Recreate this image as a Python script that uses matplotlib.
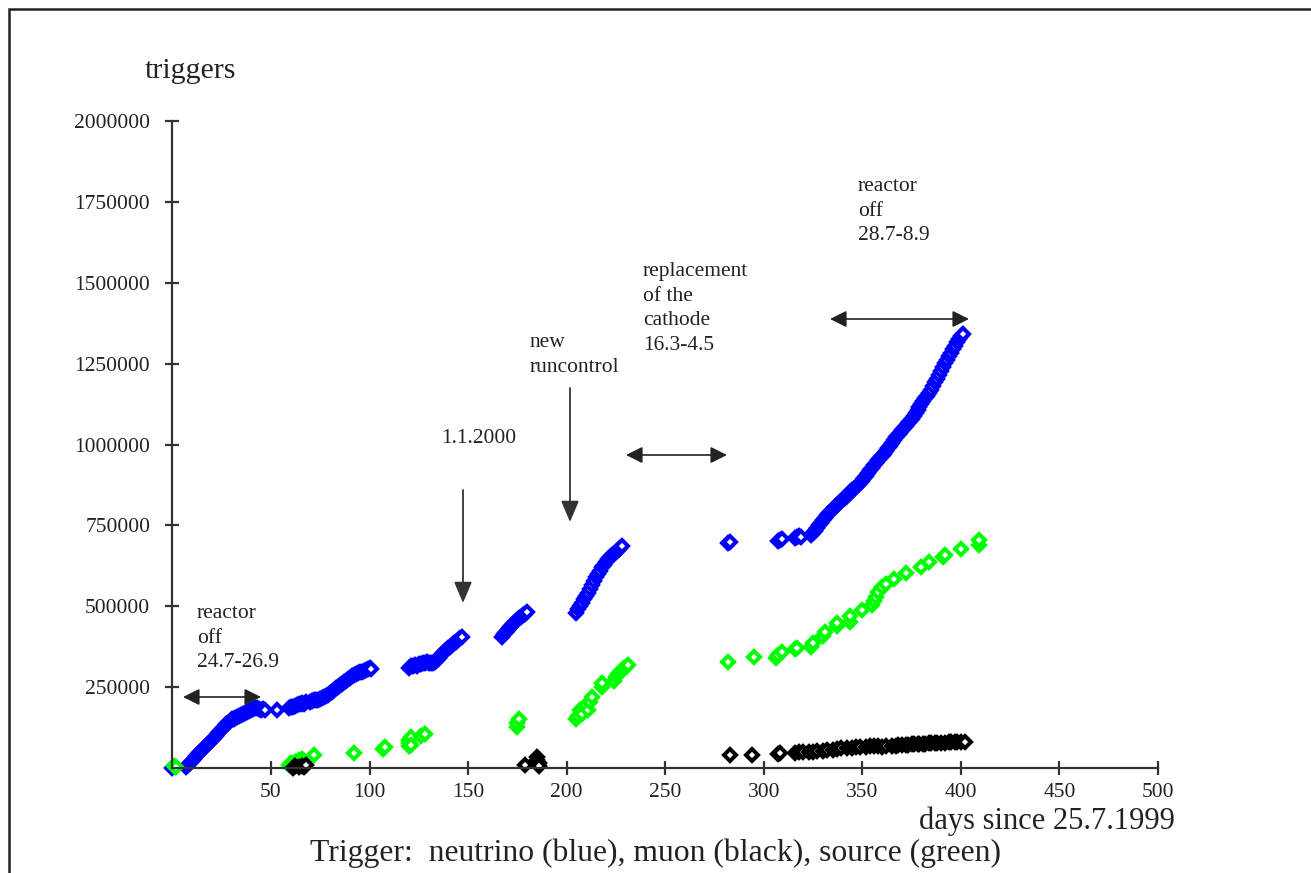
import matplotlib
matplotlib.use("Agg")
import matplotlib.pyplot as plt
from matplotlib.patches import Rectangle

plt.rcParams['font.family'] = ['Liberation Serif', 'DejaVu Serif']

# ---------------- data ----------------
neutrino_days = [0, 7, 8, 9, 10, 11, 12, 13, 14, 15, 16, 17, 18, 19, 20, 21, 22, 23, 24, 25, 26, 27, 28, 29, 30,
                 31, 32, 33, 34, 35, 36, 37, 38, 39, 40, 41, 42, 43, 44, 45, 46, 47,
                 53,
                 59, 60, 61, 62, 63, 64, 65, 66, 67, 68, 70, 71, 72, 73, 74, 75, 76, 77, 78, 79, 80, 81, 82, 83,
                 84, 85, 86, 87, 88, 89, 90, 91, 92, 93, 94, 95, 96, 97, 98, 99, 100, 101,
                 120, 121, 122, 123, 124, 125, 126, 127, 128, 129, 130, 131, 132, 133, 134, 135, 136, 137, 138,
                 139, 140, 141, 142, 143, 144, 145, 146, 147,
                 167, 168, 169, 170, 171, 172, 173, 174, 175, 176, 177, 178, 179, 180,
                 205, 206, 207, 208, 209, 210, 211, 212, 213, 214, 215, 216, 217, 218, 219, 220, 221, 222, 223,
                 224, 225, 226, 227, 228,
                 282, 283,
                 307, 308, 309, 316, 317, 318, 319, 324, 325, 326, 327, 328, 329, 330, 331, 332, 333, 334, 335,
                 336, 337, 338, 339, 340, 341, 342, 343, 344, 345, 346, 347, 348, 349, 350, 351, 352, 353, 354,
                 355, 356, 357, 358, 359, 360, 361, 362, 363, 364, 365, 366, 367, 368, 369, 370, 371, 372, 373,
                 374, 375, 376, 377, 378, 379, 380, 381, 382, 383, 384, 385, 386, 387, 388, 389, 390, 391, 392,
                 393, 394, 395, 396, 397, 398, 399, 400, 401]
neutrino_trig = [0, 3e3, 9e3, 15e3, 22e3, 28e3, 36e3, 43e3, 50e3, 56e3, 62e3, 68e3, 74e3, 80e3, 87e3, 93e3,
                 100e3, 107e3, 114e3, 121e3, 128e3, 135e3, 140e3, 145e3, 150e3,
                 153e3, 155e3, 158e3, 160e3, 163e3, 166e3, 170e3, 173e3, 177e3, 180e3, 183e3, 184e3, 185e3,
                 182e3, 180e3, 181e3, 179e3,
                 178e3,
                 187e3, 190e3, 188e3, 192e3, 195e3, 197e3, 199e3, 201e3, 198e3, 203e3, 205e3, 207e3, 210e3,
                 211e3, 209e3, 212e3, 215e3, 218e3, 222e3, 226e3, 231e3, 236e3, 241e3, 246e3,
                 251e3, 256e3, 261e3, 265e3, 270e3, 275e3, 279e3, 283e3, 286e3, 290e3, 293e3, 296e3, 298e3,
                 301e3, 304e3, 306e3, 308e3, 307e3,
                 309e3, 314e3, 316e3, 318e3, 315e3, 320e3, 322e3, 324e3, 325e3, 327e3, 324e3, 326e3, 325e3,
                 329e3, 333e3, 340e3, 346e3, 352e3, 358e3,
                 364e3, 370e3, 375e3, 381e3, 386e3, 391e3, 396e3, 401e3, 405e3,
                 405e3, 413e3, 420e3, 427e3, 434e3, 440e3, 446e3, 452e3, 458e3, 463e3, 468e3, 473e3, 477e3,
                 481e3,
                 478e3, 490e3, 500e3, 511e3, 521e3, 531e3, 540e3, 552e3, 565e3, 577e3, 589e3, 600e3, 610e3,
                 620e3, 628e3, 638e3, 646e3, 653e3, 658e3,
                 662e3, 668e3, 674e3, 680e3, 687e3,
                 695e3, 700e3,
                 703e3, 705e3, 707e3, 710e3, 713e3, 718e3, 714e3, 720e3, 726e3, 733e3, 742e3, 750e3, 758e3,
                 766e3, 774e3, 782e3, 788e3, 794e3, 800e3,
                 806e3, 812e3, 818e3, 824e3, 830e3, 836e3, 842e3, 848e3, 853e3, 858e3, 863e3, 868e3, 874e3,
                 880e3, 888e3, 896e3, 904e3, 912e3, 920e3,
                 928e3, 936e3, 944e3, 952e3, 958e3, 964e3, 972e3, 980e3, 988e3, 996e3, 1005e3, 1014e3, 1022e3,
                 1030e3, 1037e3, 1044e3, 1051e3, 1058e3, 1065e3,
                 1072e3, 1080e3, 1088e3, 1097e3, 1106e3, 1116e3, 1125e3, 1134e3, 1143e3, 1151e3, 1160e3,
                 1170e3, 1181e3, 1192e3, 1204e3, 1216e3, 1228e3, 1240e3, 1251e3,
                 1262e3, 1273e3, 1283e3, 1294e3, 1305e3, 1316e3, 1326e3, 1336e3, 1343e3]

source_days = [1, 2, 59, 60, 61, 62, 63, 64, 65, 66, 67, 72, 92, 107, 108, 120, 120, 120, 121, 121, 126, 128,
               175, 175, 176, 205, 206, 207, 208, 210, 211, 212, 213, 218, 218, 224, 225, 226, 227, 228, 229,
               230, 231,
               282, 295, 306, 307, 309, 316, 317, 324, 325, 330, 331, 337, 337, 344, 344, 350, 355, 356, 357,
               358, 360, 362, 366, 372, 380, 384, 391, 392, 400, 409, 409]
source_trig = [5e3, 3e3, 8e3, 15e3, 5e3, 20e3, 12e3, 25e3, 18e3, 28e3, 22e3, 40e3, 45e3, 58e3, 64e3, 68e3,
               78e3, 88e3, 95e3, 72e3, 100e3, 106e3,
               128e3, 138e3, 150e3, 150e3, 160e3, 178e3, 168e3, 195e3, 180e3, 205e3, 220e3, 250e3, 262e3,
               270e3, 282e3, 290e3, 298e3, 303e3, 308e3, 312e3, 318e3,
               329e3, 342e3, 340e3, 348e3, 358e3, 368e3, 372e3, 375e3, 385e3, 408e3, 420e3, 440e3, 448e3,
               452e3, 470e3, 488e3, 505e3, 515e3, 530e3, 545e3, 560e3, 570e3, 583e3, 604e3, 622e3, 636e3,
               652e3, 658e3, 676e3, 690e3, 705e3]

muon_days = [61, 62, 64, 66, 67, 68, 179, 185, 185, 186, 186,
             283, 294, 307, 308, 316, 318, 320, 323, 325, 327, 330, 332, 335, 337, 339, 342, 345, 347, 349,
             352, 354, 356, 358, 360, 362, 365, 367, 368, 370, 372, 373, 375, 376, 378, 379, 381, 382, 384,
             385, 387, 388, 390, 392, 394, 395, 397, 398, 400, 402]
muon_trig = [0, 5e3, 3e3, 6e3, 2e3, 8e3, 10e3, 35e3, 25e3, 14e3, 5e3,
             40e3, 40e3, 43e3, 46e3, 46e3, 48e3, 48e3, 50e3, 50e3, 52e3, 53e3, 55e3, 57e3, 60e3, 61e3, 62e3,
             63e3, 64e3, 65e3, 66e3, 67e3, 68e3, 67e3, 66e3, 68e3, 68e3, 69e3, 70e3, 71e3, 72e3, 72e3, 73e3,
             73e3, 74e3, 74e3, 75e3, 75e3, 76e3, 76e3, 77e3, 77e3, 78e3, 78e3, 79e3, 79e3, 80e3, 80e3, 80e3,
             81e3]

x_ticks = [50, 100, 150, 200, 250, 300, 350, 400, 450, 500]
y_ticks = [250000, 500000, 750000, 1000000, 1250000, 1500000, 1750000, 2000000]

# ---------------- figure ----------------
W, H = 1311, 873
fig = plt.figure(figsize=(W / 100, H / 100), dpi=100)

def fx(px):
    return px / W

def fy(py):
    return 1 - py / H

# outer frame (left and top visible)
fig.patches.append(Rectangle((fx(9), -0.05), 1.2, fy(9) + 0.05, transform=fig.transFigure,
                             fill=False, edgecolor='#222222', linewidth=1.8))

ax = fig.add_axes([fx(172.4), fy(768), fx(1158) - fx(172.4), fy(121) - fy(768)])
ax.set_xlim(0, 500)
ax.set_ylim(0, 2000000)

mk = dict(marker='D', linestyle='none', markersize=6.4, markeredgewidth=2.9, markerfacecolor='white',
          clip_on=False)
ax.plot(neutrino_days, neutrino_trig, markeredgecolor='#0000ff', **mk)
ax.plot(source_days, source_trig, markeredgecolor='#00ff00', **mk)
ax.plot(muon_days, muon_trig, markeredgecolor='#000000', **mk)

for s in ['top', 'right']:
    ax.spines[s].set_visible(False)
for s in ['left', 'bottom']:
    ax.spines[s].set_color('#333333')
    ax.spines[s].set_linewidth(1.6)

ax.set_xticks(x_ticks)
ax.set_xticklabels([str(t) for t in x_ticks])
ax.set_yticks(y_ticks)
ax.set_yticklabels([str(t) for t in y_ticks])
ax.tick_params(axis='both', direction='inout', length=10, width=1.6, color='#333333',
               labelsize=15.5, labelcolor='#222222')
ax.tick_params(axis='x', pad=6)
ax.tick_params(axis='y', pad=11)

tc = '#222222'
fig.text(fx(145), fy(71), 'triggers', fontsize=21.5, color=tc, va='center', ha='left')
fig.text(fx(1175), fy(821), 'days since 25.7.1999', fontsize=22, color=tc, va='center', ha='right')
fig.text(fx(310), fy(853), 'Trigger:  neutrino (blue), muon (black), source (green)', fontsize=22.8,
         color=tc, va='center', ha='left')

ann = dict(fontsize=15.5, color=tc, ha='left', va='top', linespacing=1.4)
fig.text(fx(197), fy(604), 'reactor\noff\n24.7-26.9', **ann)
fig.text(fx(441), fy(429), '1.1.2000', **ann)
fig.text(fx(530), fy(333), 'new\nruncontrol', **ann)
fig.text(fx(643), fy(262), 'replacement\nof the\ncathode\n16.3-4.5', **ann)
fig.text(fx(858), fy(177), 'reactor\noff\n28.7-8.9', **ann)

# arrows
dbl = dict(arrowstyle='<|-|>,head_length=1.0,head_width=0.5', color='#222222', lw=1.2,
           shrinkA=0, shrinkB=0)
dwn = dict(arrowstyle='-|>,head_length=1.3,head_width=0.55', color='#333333', lw=1.3,
           shrinkA=0, shrinkB=0)

def arrow(x0, y0, x1, y1, props):
    ax.annotate('', xy=(x1, y1), xytext=(x0, y0), xycoords='figure pixels',
                textcoords='figure pixels', arrowprops=props, annotation_clip=False)

arrow(183, H - 697, 261, H - 697, dbl)
arrow(626, H - 455, 727, H - 455, dbl)
arrow(830, H - 319, 969, H - 319, dbl)
arrow(463, H - 490, 463, H - 603, dwn)
arrow(570, H - 388, 570, H - 522, dwn)

fig.savefig('out.png', dpi=100)
